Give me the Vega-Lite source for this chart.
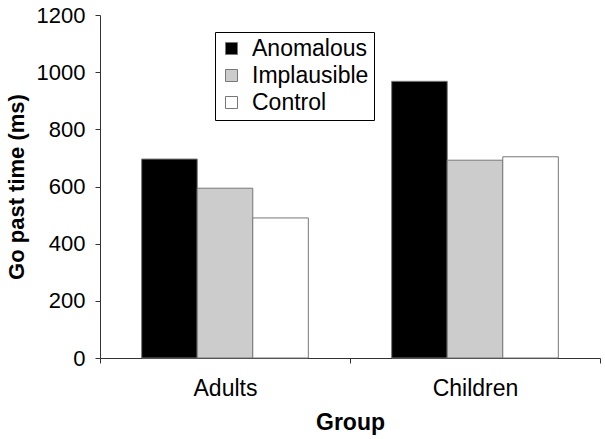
{
  "$schema": "https://vega.github.io/schema/vega-lite/v6.json",
  "autosize": {"type": "none"},
  "padding": {"left": 100, "top": 15, "right": 5, "bottom": 81},
  "width": 500,
  "height": 343,
  "background": "white",
  "config": {
    "view": {"stroke": null},
    "font": "Liberation Sans"
  },
  "data": {
    "values": [
      {"Group": "Adults", "Condition": "Anomalous", "Time": 696},
      {"Group": "Adults", "Condition": "Implausible", "Time": 594},
      {"Group": "Adults", "Condition": "Control", "Time": 490},
      {"Group": "Children", "Condition": "Anomalous", "Time": 968},
      {"Group": "Children", "Condition": "Implausible", "Time": 692},
      {"Group": "Children", "Condition": "Control", "Time": 704}
    ]
  },
  "mark": {"type": "bar", "stroke": "#777777", "strokeWidth": 1},
  "encoding": {
    "x": {
      "field": "Group",
      "type": "nominal",
      "scale": {"paddingInner": 0, "paddingOuter": 0},
      "axis": {
        "title": "Group",
        "labelAngle": 0,
        "labelFontSize": 23,
        "labelColor": "black",
        "labelPadding": 14,
        "titleFontSize": 23,
        "titleFontWeight": "bold",
        "titleColor": "black",
        "titlePadding": 11,
        "tickBand": "extent",
        "domainColor": "#333333",
        "tickColor": "#333333",
        "tickSize": 5
      }
    },
    "xOffset": {
      "field": "Condition",
      "type": "nominal",
      "sort": ["Anomalous", "Implausible", "Control"],
      "scale": {"paddingInner": 0, "paddingOuter": 0.75}
    },
    "y": {
      "field": "Time",
      "type": "quantitative",
      "scale": {"domain": [0, 1200]},
      "axis": {
        "title": "Go past time (ms)",
        "values": [0, 200, 400, 600, 800, 1000, 1200],
        "format": "d",
        "grid": false,
        "labelFontSize": 22,
        "labelColor": "black",
        "labelPadding": 10,
        "titleFontSize": 22,
        "titleFontWeight": "bold",
        "titleColor": "black",
        "titlePadding": 8,
        "domainColor": "#333333",
        "tickColor": "#333333",
        "tickSize": 5
      }
    },
    "color": {
      "field": "Condition",
      "type": "nominal",
      "sort": ["Anomalous", "Implausible", "Control"],
      "scale": {
        "domain": ["Anomalous", "Implausible", "Control"],
        "range": ["#000000", "#cccccc", "#ffffff"]
      },
      "legend": {
        "title": null,
        "orient": "none",
        "legendX": 115,
        "legendY": 17,
        "strokeColor": "black",
        "padding": 5,
        "symbolType": "square",
        "symbolSize": 144,
        "symbolStrokeColor": "#777777",
        "symbolStrokeWidth": 1,
        "labelFontSize": 23,
        "labelColor": "black",
        "labelOffset": 9,
        "rowPadding": 3,
        "symbolOpacity": 1,
        "fillColor": "white"
      }
    }
  }
}
